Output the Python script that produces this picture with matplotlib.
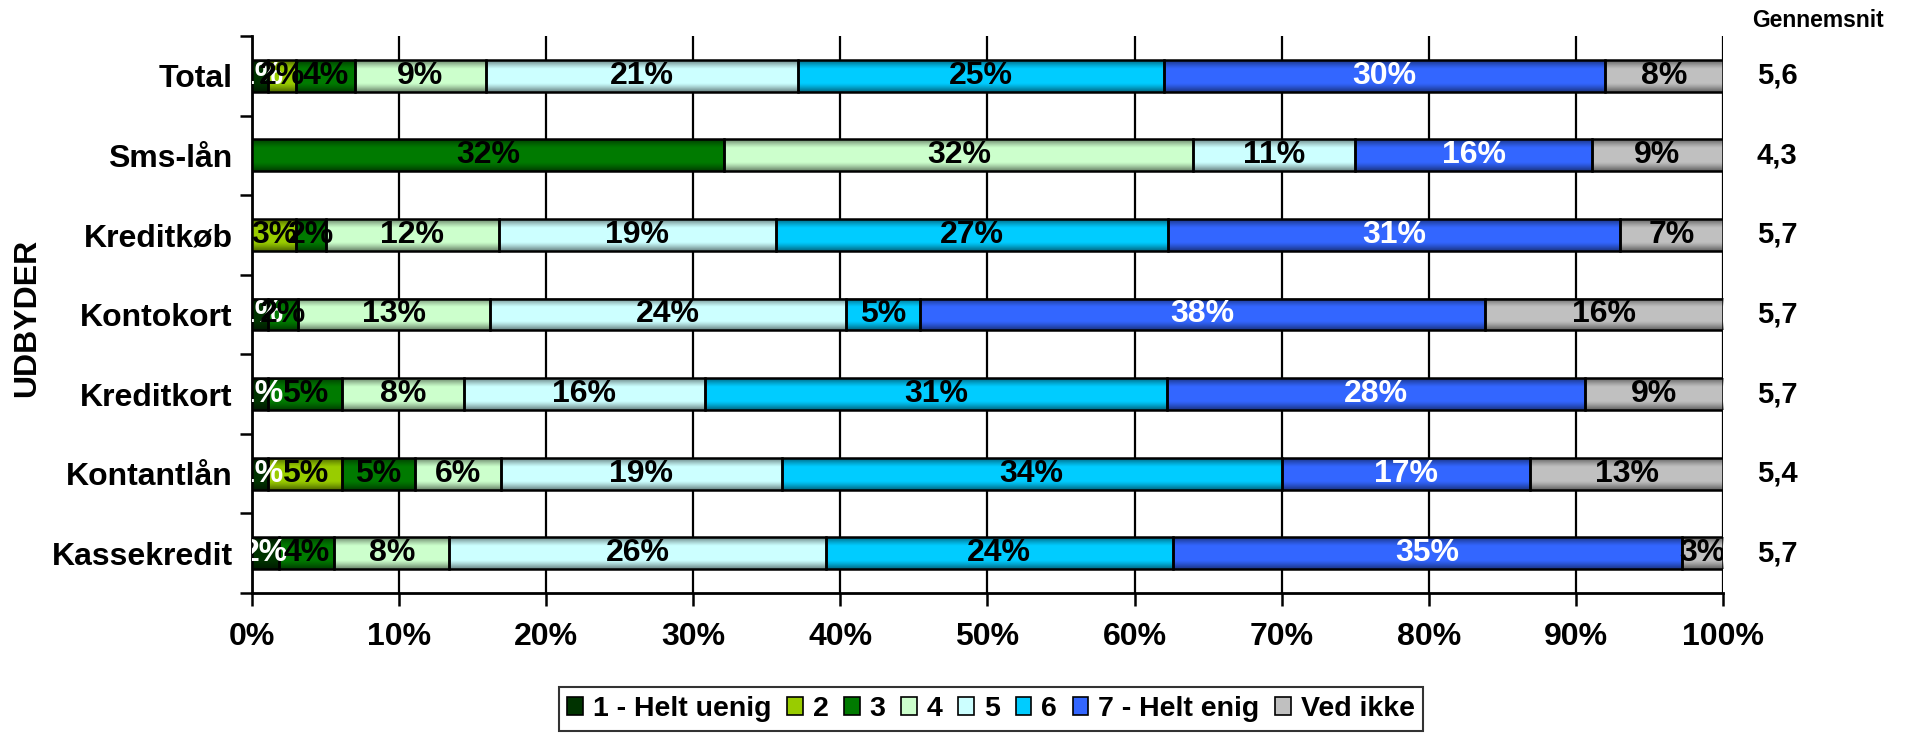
import numpy as np
import matplotlib
matplotlib.use("Agg")
import matplotlib.pyplot as plt
from matplotlib.patches import Patch

plt.rcParams['font.family'] = ['Liberation Sans', 'DejaVu Sans']
plt.rcParams['font.weight'] = 'bold'

categories = ["Total", "Sms-lån", "Kreditkøb", "Kontokort", "Kreditkort", "Kontantlån", "Kassekredit"]
series_names = ["1 - Helt uenig", "2", "3", "4", "5", "6", "7 - Helt enig", "Ved ikke"]

s1 = [1.1, 0.0, 0.0, 1.1, 1.1, 1.1, 1.8]
s2 = [1.9, 0.0, 3.0, 0.0, 0.0, 5.0, 0.0]
s3 = [4.0, 32.1, 2.0, 2.0, 5.0, 5.0, 3.8]
s4 = [8.9, 31.9, 11.8, 13.1, 8.3, 5.8, 7.8]
s5 = [21.2, 11.0, 18.8, 24.2, 16.4, 19.1, 25.6]
s6 = [24.9, 0.0, 26.7, 5.0, 31.4, 34.0, 23.6]
s7 = [30.0, 16.1, 30.7, 38.4, 28.4, 16.9, 34.6]
ved_ikke = [8.0, 8.9, 7.0, 16.2, 9.4, 13.1, 2.8]

gennemsnit = [5.6, 4.3, 5.7, 5.7, 5.7, 5.4, 5.7]

xticks = [0, 10, 20, 30, 40, 50, 60, 70, 80, 90, 100]

series = [s1, s2, s3, s4, s5, s6, s7, ved_ikke]
colors = ["#003300", "#99CC00", "#007A00", "#CCFFCC", "#CCFFFF", "#00CCFF", "#3366FF", "#C0C0C0"]
label_colors = ["white", "black", "black", "black", "black", "black", "white", "black"]

fig = plt.figure(figsize=(19.3, 7.33), dpi=100)
ax = fig.add_axes([0.1306, 0.191, 0.7621, 0.7599])

y = np.arange(len(categories))
bar_h = 0.40

# gradient overlay profile (darker at top/bottom edges)
t = np.linspace(0, 1, 64)
d = np.clip((np.abs(2 * t - 1) - 0.45) / 0.55, 0, 1)
alpha_prof = 0.5 * d ** 1.2
overlay = np.zeros((64, 2, 4))
overlay[..., 3] = alpha_prof[:, None]

left = np.zeros(len(categories))
for vals, col, lcol in zip(series, colors, label_colors):
    vals = np.array(vals)
    bars = ax.barh(y, vals, left=left, height=bar_h, color=col,
                   edgecolor="none", linewidth=0, zorder=3)
    for b, v in zip(bars, vals):
        if v <= 0:
            continue
        x0, y0 = b.get_x(), b.get_y()
        w, h = b.get_width(), b.get_height()
        ax.imshow(overlay, extent=(x0, x0 + w, y0 + h, y0), aspect='auto',
                  zorder=3.5, interpolation='bilinear')
    ax.barh(y, vals, left=left, height=bar_h, fill=False,
            edgecolor=["black" if v > 0 else "none" for v in vals], linewidth=1.8, zorder=4)
    for b, v in zip(bars, vals):
        if v <= 0:
            continue
        cx = b.get_x() + b.get_width() / 2
        cy = b.get_y() + b.get_height() / 2
        ax.text(cx, cy, f"{v:.0f}%", ha="center", va="center", color=lcol,
                fontsize=23, fontweight="bold", zorder=5, clip_on=True)
    left = left + vals

ax.set_xlim(0, 100)
ax.set_ylim(len(categories) - 0.5, -0.5)

ax.set_xticks(xticks)
ax.set_xticklabels([f"{v}%" for v in xticks], fontsize=23, fontweight="bold")
ax.set_yticks(y)
ax.set_yticklabels(categories, fontsize=23, fontweight="bold")
ax.set_yticks(np.arange(-0.5, len(categories) + 0.5, 1), minor=True)
ax.tick_params(axis="y", which="major", length=0, pad=14)
ax.tick_params(axis="y", which="minor", length=9, width=1.8, direction="out", color="black")
ax.tick_params(axis="x", which="major", length=9, width=1.8, direction="out", pad=12)

ax.grid(axis="x", color="black", linewidth=1.6, zorder=0)
ax.set_axisbelow(True)
for side in ["top", "right"]:
    ax.spines[side].set_visible(False)
ax.spines["left"].set_linewidth(2)
ax.spines["bottom"].set_linewidth(2)

# y-axis title
fig.text(27 / 1930, 1 - 318 / 733, "UDBYDER", rotation=90, ha="center", va="center",
         fontsize=23, fontweight="bold")

# Gennemsnit column
ax.text(1.0 + (1818 - 1723) / (0.7621 * 1930), 1.0 + (36 - 21) / (0.7599 * 733), "Gennemsnit",
        transform=ax.transAxes, ha="center", va="center", fontsize=16.5, fontweight="bold")
for yi, g in zip(y, gennemsnit):
    ax.text(1.0 + (1757 - 1723) / (0.7621 * 1930), yi, f"{g:.1f}".replace(".", ","),
            transform=ax.get_yaxis_transform(), ha="left", va="center",
            fontsize=21, fontweight="bold", clip_on=False)

handles = [Patch(facecolor=c, edgecolor="black", linewidth=1.2) for c in colors]
leg = fig.legend(handles, series_names, loc="center", bbox_to_anchor=(991 / 1930, 1 - 709 / 733),
                 ncol=8, frameon=True, fancybox=False, edgecolor="black",
                 prop={"size": 20.5, "weight": "bold"}, handlelength=0.55, handleheight=0.55,
                 handletextpad=0.35, columnspacing=0.55, borderpad=0.3)
leg.get_frame().set_linewidth(1.5)

fig.savefig("out.png", dpi=100)
